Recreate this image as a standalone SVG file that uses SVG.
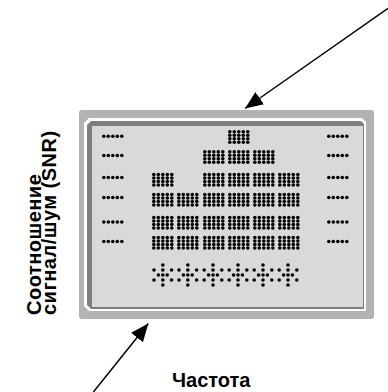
<svg xmlns="http://www.w3.org/2000/svg" xmlns:xlink="http://www.w3.org/1999/xlink" width="388" height="392" viewBox="0 0 388 392">
  <style>
    .lbl { font-family: "Liberation Sans", Arial, sans-serif; font-weight: bold; font-size: 20px; fill: #000; }
    .conn { stroke: #000; stroke-width: 1.5; fill: none; }
    .dot { fill: #000; }
  </style>
  <defs>
    <marker id="head" markerUnits="userSpaceOnUse" markerWidth="20" markerHeight="16" refX="18" refY="7.5" orient="auto">
      <path d="M0,0 L18,7.5 L0,15 Z" fill="#000"/>
    </marker>
    <circle id="d" r="1.8" class="dot"/>
    <!-- row of five dots -->
    <g id="dash">
      <use xlink:href="#d" x="1.8" y="0"/>
      <use xlink:href="#d" x="6.3" y="0"/>
      <use xlink:href="#d" x="10.8" y="0"/>
      <use xlink:href="#d" x="15.3" y="0"/>
      <use xlink:href="#d" x="19.8" y="0"/>
    </g>
    <!-- 5 x 4 dot block -->
    <g id="blk">
      <use xlink:href="#dash" y="1.8"/>
      <use xlink:href="#dash" y="5.3"/>
      <use xlink:href="#dash" y="8.8"/>
      <use xlink:href="#dash" y="12.3"/>
    </g>
    <!-- asterisk-shaped dot cluster -->
    <g id="star">
      <use xlink:href="#d" x="0" y="-10"/>
      <use xlink:href="#d" x="-8.8" y="-5"/>
      <use xlink:href="#d" x="0" y="-5"/>
      <use xlink:href="#d" x="8.8" y="-5"/>
      <use xlink:href="#d" x="-4.4" y="0"/>
      <use xlink:href="#d" x="0" y="0"/>
      <use xlink:href="#d" x="4.4" y="0"/>
      <use xlink:href="#d" x="-8.8" y="5"/>
      <use xlink:href="#d" x="0" y="5"/>
      <use xlink:href="#d" x="8.8" y="5"/>
      <use xlink:href="#d" x="0" y="10"/>
    </g>
  </defs>

  <rect width="388" height="392" fill="#fff"/>

  <!-- display panel -->
  <g id="display">
    <rect x="79" y="110" width="295" height="209" rx="3" fill="#b3b3b3"/>
    <polygon points="89,118 362,118 366,122 366,311 89,311 84,306 84,123" fill="#fff"/>
    <polygon points="91,121 361,121 364,124 364,309 91,309 87,305 87,125" fill="#7f7f7f"/>
    <rect x="92" y="126" width="271" height="181" fill="#d9d9d9"/>

    <!-- level ticks, left -->
    <g id="ticks-left">
      <use xlink:href="#dash" x="102" y="136.3"/>
      <use xlink:href="#dash" x="102" y="155.5"/>
      <use xlink:href="#dash" x="102" y="177.5"/>
      <use xlink:href="#dash" x="102" y="197.5"/>
      <use xlink:href="#dash" x="102" y="222"/>
      <use xlink:href="#dash" x="102" y="241.5"/>
    </g>
    <!-- level ticks, right -->
    <g id="ticks-right">
      <use xlink:href="#dash" x="327" y="136.3"/>
      <use xlink:href="#dash" x="327" y="155.5"/>
      <use xlink:href="#dash" x="327" y="177.5"/>
      <use xlink:href="#dash" x="327" y="197.5"/>
      <use xlink:href="#dash" x="327" y="222"/>
      <use xlink:href="#dash" x="327" y="241.5"/>
    </g>

    <!-- bar segments -->
    <g id="bars">
      <use xlink:href="#blk" x="228" y="130"/>

      <use xlink:href="#blk" x="203" y="150"/>
      <use xlink:href="#blk" x="228" y="150"/>
      <use xlink:href="#blk" x="253" y="150"/>

      <use xlink:href="#blk" x="152" y="172.7"/>
      <use xlink:href="#blk" x="203" y="172.7"/>
      <use xlink:href="#blk" x="228" y="172.7"/>
      <use xlink:href="#blk" x="253" y="172.7"/>
      <use xlink:href="#blk" x="278" y="172.7"/>

      <use xlink:href="#blk" x="152" y="192.7"/>
      <use xlink:href="#blk" x="177" y="192.7"/>
      <use xlink:href="#blk" x="203" y="192.7"/>
      <use xlink:href="#blk" x="228" y="192.7"/>
      <use xlink:href="#blk" x="253" y="192.7"/>
      <use xlink:href="#blk" x="278" y="192.7"/>

      <use xlink:href="#blk" x="152" y="215.7"/>
      <use xlink:href="#blk" x="177" y="215.7"/>
      <use xlink:href="#blk" x="203" y="215.7"/>
      <use xlink:href="#blk" x="228" y="215.7"/>
      <use xlink:href="#blk" x="253" y="215.7"/>
      <use xlink:href="#blk" x="278" y="215.7"/>

      <use xlink:href="#blk" x="152" y="235.7"/>
      <use xlink:href="#blk" x="177" y="235.7"/>
      <use xlink:href="#blk" x="203" y="235.7"/>
      <use xlink:href="#blk" x="228" y="235.7"/>
      <use xlink:href="#blk" x="253" y="235.7"/>
      <use xlink:href="#blk" x="278" y="235.7"/>
    </g>

    <!-- band markers -->
    <g id="bands">
      <use xlink:href="#star" x="162.8" y="275"/>
      <use xlink:href="#star" x="187.8" y="275"/>
      <use xlink:href="#star" x="213" y="275"/>
      <use xlink:href="#star" x="238" y="275"/>
      <use xlink:href="#star" x="263" y="275"/>
      <use xlink:href="#star" x="288" y="275"/>
    </g>
  </g>

  <g id="connectors">
    <line class="conn" x1="388" y1="8.4" x2="245" y2="108.5" marker-end="url(#head)"/>
    <line class="conn" x1="93.4" y1="392" x2="148.3" y2="323.5" marker-end="url(#head)"/>
  </g>

  <g id="label-snr">
    <text class="lbl" letter-spacing="0.5" transform="translate(41,315) rotate(-90)">Соотношение</text>
    <text class="lbl" letter-spacing="0.5" transform="translate(56,315) rotate(-90)">сигнал/шум (SNR)</text>
  </g>
  <g id="label-freq">
    <text class="lbl" x="172" y="387">Частота</text>
  </g>
</svg>
